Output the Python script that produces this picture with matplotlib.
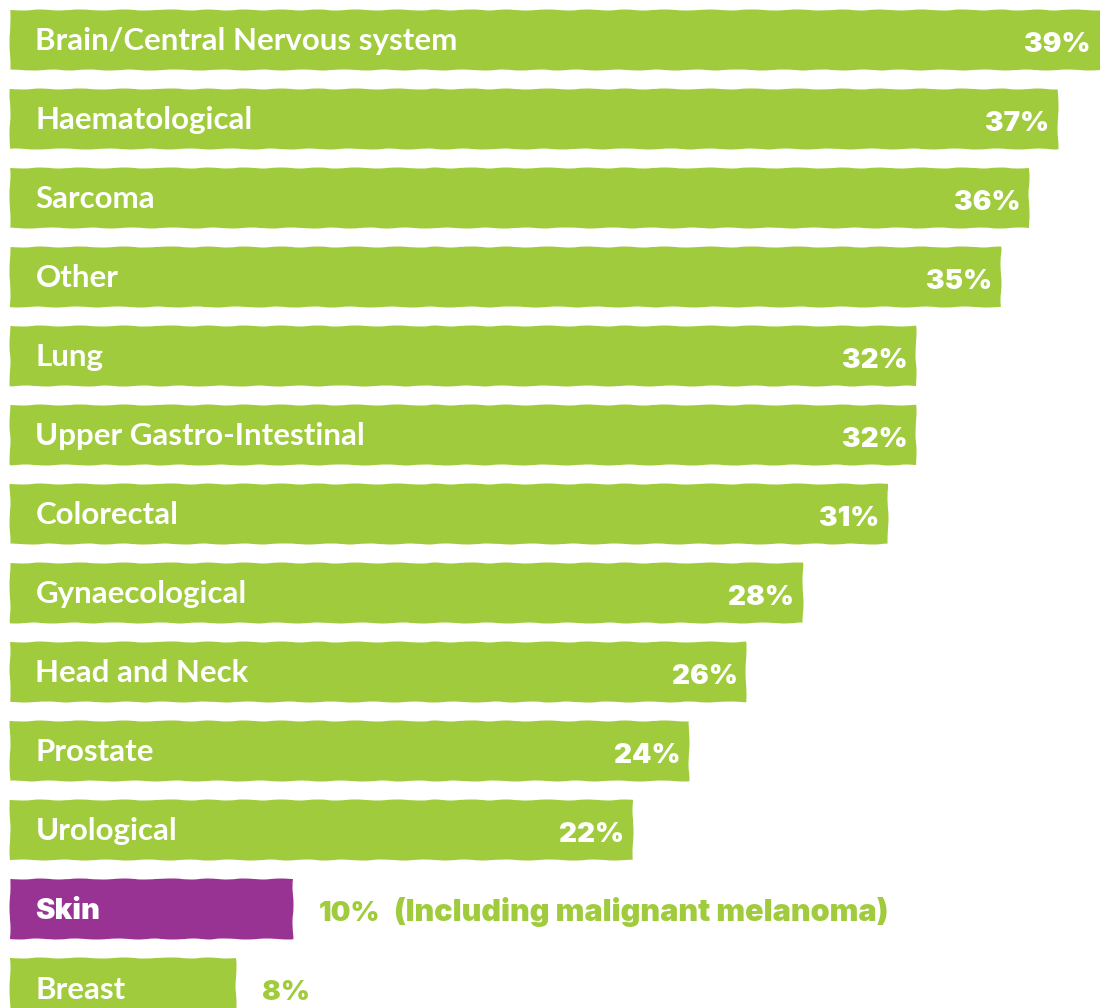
import matplotlib
matplotlib.use('Agg')
import matplotlib.pyplot as plt

categories = [
    "Brain/Central Nervous system", "Haematological", "Sarcoma", "Other",
    "Lung", "Upper Gastro-Intestinal", "Colorectal", "Gynaecological",
    "Head and Neck", "Prostate", "Urological", "Skin", "Breast",
]
values = [39, 37, 36, 35, 32, 32, 31, 28, 26, 24, 22, 10, 8]
notes = {"Skin": "(Including malignant melanoma)"}
highlight = "Skin"

GREEN = '#a0cb3c'
PURPLE = '#993393'

fig = plt.figure(figsize=(11, 10.08), dpi=100)
ax = fig.add_axes([0, 0, 1, 1])
XMAX = 38.5
ax.set_xlim(-0.35, XMAX)
ax.set_ylim(12.25, -0.506)
ax.axis('off')

BASE = 0.13  # baseline offset below bar centre
for i, (cat, v) in enumerate(zip(categories, values)):
    col = PURPLE if cat == highlight else GREEN
    bars = ax.barh(i, v, height=0.76, left=0, color=col)
    for b in bars:
        b.set_sketch_params(0.5, 50, 3)
    if cat == highlight:
        ax.text(0.9, i + BASE, cat, color='white', fontsize=21, fontweight=900,
                va='baseline', ha='left', family='Inter')
    else:
        ax.text(0.9, i + BASE, cat, color='white', fontsize=22.5, fontweight=700,
                va='baseline', ha='left', family='Lato')
    if v >= 15:
        # value sits inside the bar end
        xend = min(v, XMAX - 0.05)
        ax.text(xend - 0.3, i + BASE + 0.02, f"{v}%", color='white', fontsize=20,
                fontweight=900, va='baseline', ha='right', family='Inter')
    else:
        ax.text(v + 0.9, i + BASE + 0.02, f"{v}%", color=GREEN, fontsize=20,
                fontweight=900, va='baseline', ha='left', family='Inter')
        if cat in notes:
            ax.text(v + 3.55, i + BASE + 0.02, notes[cat], color=GREEN,
                    fontsize=22, fontweight=900, va='baseline', ha='left',
                    family='Inter')

fig.savefig('out.png', dpi=100, facecolor='white')
